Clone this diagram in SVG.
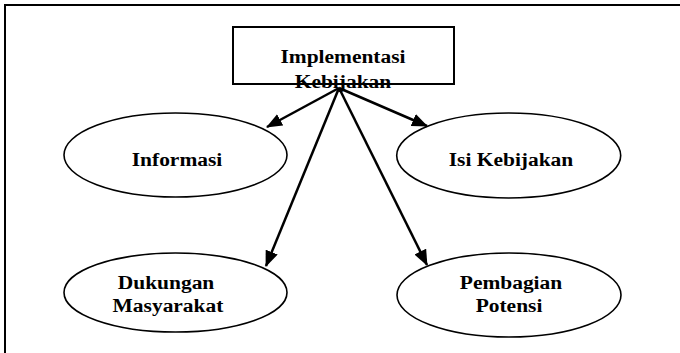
<svg xmlns="http://www.w3.org/2000/svg" width="680" height="353" viewBox="0 0 680 353">
  <style>
    .frame { fill: none; stroke: #000; stroke-width: 2; }
    .box { fill: #fff; stroke: #000; stroke-width: 2; }
    .oval { fill: #fff; stroke: #000; stroke-width: 1.6; }
    .lbl { font-family: "Liberation Serif", "Times New Roman", serif; font-weight: bold; font-size: 18.5px; fill: #000; text-anchor: middle; }
    .edge { fill: none; stroke: #000; stroke-width: 2.5; marker-end: url(#head); }
  </style>
  <defs>
    <marker id="head" markerUnits="userSpaceOnUse" viewBox="0 0 16 13" refX="15" refY="6.5" markerWidth="16" markerHeight="13" orient="auto">
      <path d="M0,0 L16,6.5 L0,13 Z" fill="#000"/>
    </marker>
  </defs>
  <rect width="680" height="353" fill="#fff"/>

  <!-- outer frame: top and left edges only -->
  <path class="frame" d="M5,353 L5,5 L680,5"/>

  <!-- labels are set in a slightly widened serif -->
  <g id="implementasi">
    <rect class="box" x="233" y="27" width="221" height="57"/>
    <text class="lbl" transform="translate(343,63) scale(1.16,1)">Implementasi</text>
    <text class="lbl" transform="translate(343,88) scale(1.16,1)">Kebijakan</text>
  </g>

  <g id="informasi">
    <ellipse class="oval" cx="175.5" cy="155" rx="111.5" ry="42"/>
    <text class="lbl" transform="translate(177,166) scale(1.16,1)">Informasi</text>
  </g>

  <g id="isi-kebijakan">
    <ellipse class="oval" cx="508.7" cy="155.5" rx="112" ry="42.5"/>
    <text class="lbl" transform="translate(511,166) scale(1.16,1)">Isi Kebijakan</text>
  </g>

  <g id="dukungan-masyarakat">
    <ellipse class="oval" cx="175.5" cy="292.5" rx="111.5" ry="39.5"/>
    <text class="lbl" transform="translate(166,289) scale(1.16,1)">Dukungan</text>
    <text class="lbl" transform="translate(168,312) scale(1.16,1)">Masyarakat</text>
  </g>

  <g id="pembagian-potensi">
    <ellipse class="oval" cx="509" cy="295" rx="112" ry="42"/>
    <text class="lbl" transform="translate(511,289) scale(1.16,1)">Pembagian</text>
    <text class="lbl" transform="translate(509,312) scale(1.16,1)">Potensi</text>
  </g>

  <g id="connectors">
    <line class="edge" x1="339" y1="88" x2="267" y2="127"/>
    <line class="edge" x1="339" y1="88" x2="427" y2="126"/>
    <line class="edge" x1="339" y1="88" x2="266" y2="266"/>
    <line class="edge" x1="339" y1="88" x2="427" y2="265"/>
  </g>
</svg>
